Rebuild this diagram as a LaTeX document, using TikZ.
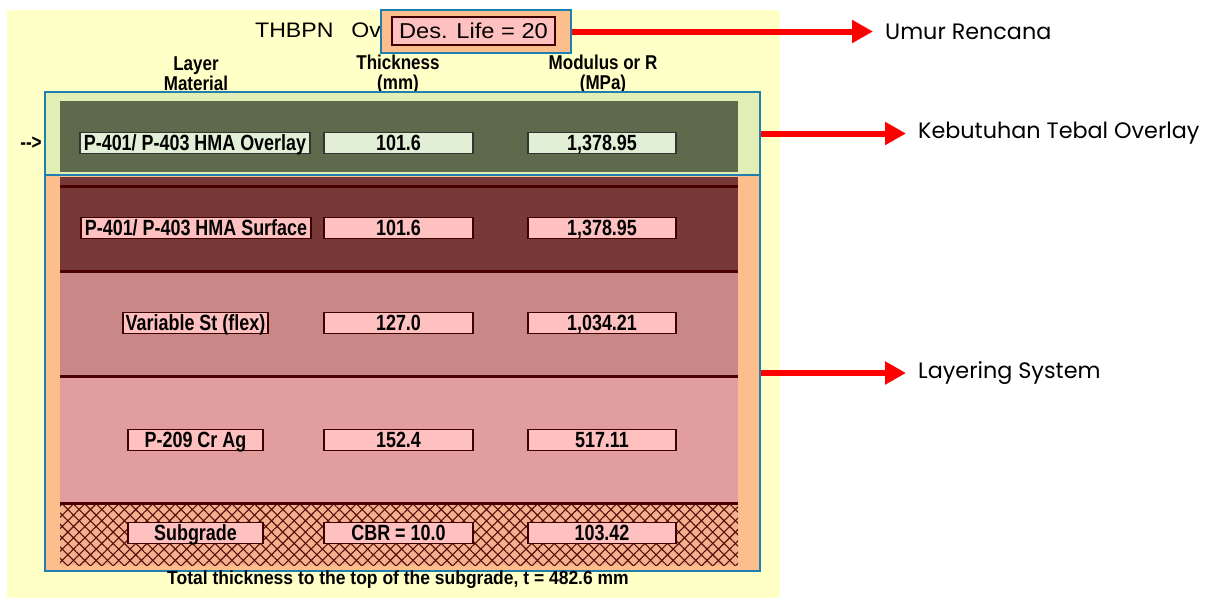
\documentclass[tikz,border=0pt]{standalone}
\usepackage{fontspec}
\setmainfont{Liberation Sans}
\newfontfamily\narrowfont[FakeStretch=0.815]{Liberation Sans}
\newfontfamily\headfont[FakeStretch=0.85]{Liberation Sans}
\newfontfamily\footfont[FakeStretch=0.92]{Liberation Sans}
\newfontfamily\widefont[FakeStretch=1.1]{Liberation Sans}
\newfontfamily\labelfont{Poppins}
\usetikzlibrary{arrows.meta,patterns.meta}

\definecolor{bgyellow}{HTML}{FFFFC8}
\definecolor{panelblue}{HTML}{1F80B0}
\definecolor{ovgreen}{HTML}{E2EFB4}
\definecolor{olivelayer}{HTML}{5D6A4B}
\definecolor{orangepanel}{HTML}{FCBE8C}
\definecolor{layA}{HTML}{773838}
\definecolor{layB}{HTML}{C98787}
\definecolor{layC}{HTML}{E29E9E}
\definecolor{subbg}{HTML}{F2B08E}
\definecolor{hatch}{HTML}{5A0A0A}
\definecolor{sepline}{HTML}{4A0000}
\definecolor{pinkbox}{HTML}{FFC0C0}
\definecolor{greenbox}{HTML}{E1EFD6}
\definecolor{boxedge}{HTML}{3C0000}
\definecolor{arrowred}{HTML}{FF0000}

\tikzset{
  panel/.style={draw=panelblue, line width=2pt, inner sep=0pt},
  valbox/.style={draw=boxedge, line width=1.5pt, fill=pinkbox, minimum height=21pt,
    inner sep=0pt, text height=15pt, text depth=0pt,
    font=\narrowfont\bfseries\fontsize{22}{22}\selectfont, text=black},
  greenval/.style={valbox, fill=greenbox, draw=black!80},
  hdr/.style={align=center, inner sep=0pt, font=\headfont\bfseries\fontsize{20}{20}\selectfont},
  redarrow/.style={draw=arrowred, line width=6pt, -{Triangle[length=21pt,width=22pt]}, shorten >=12pt},
  lbl/.style={anchor=west, inner sep=0pt, font=\labelfont\fontsize{22.3}{22.3}\selectfont},
  sepstroke/.style={draw=sepline, line width=3pt}
}

\begin{document}
\begin{tikzpicture}[x=1pt,y=-1pt]
\useasboundingbox (0,0) rectangle (1213,600);

% sheet background
\fill[bgyellow] (7,10) rectangle (780,598);

% title and column headers
\node[anchor=west, inner sep=0pt, text height=15pt, text depth=0pt, font=\widefont\fontsize{21}{21}\selectfont] (title) at (255,30) {THBPN\hspace{18pt}Ov};
\node[hdr] (hmat) at (196,74) {Layer\\Material};
\node[hdr] (hthk) at (398,74) {Thickness\\(mm)};
\node[hdr] (hmod) at (603,74) {Modulus or R\\(MPa)};

% overlay panel
\node[panel, fill=ovgreen, minimum width=715pt, minimum height=83pt] (ovbox) at (402.5,133.5) {};
\fill[olivelayer] (60,101) rectangle (738,172);

% existing pavement panel
\node[panel, fill=orangepanel, minimum width=715pt, minimum height=396pt] (laybox) at (402.5,373) {};
\fill[layA] (60,177) rectangle (738,271);
\fill[layB] (60,271) rectangle (738,376);
\fill[layC] (60,376) rectangle (738,503);
\fill[subbg] (60,503) rectangle (738,565);
\fill[pattern={Lines[angle=45,distance=8pt,line width=1.1pt]}, pattern color=hatch] (60,503) rectangle (738,565);
\fill[pattern={Lines[angle=-45,distance=8pt,line width=1.1pt]}, pattern color=hatch] (60,503) rectangle (738,565);
\draw[sepstroke] (60,186) -- (738,186);
\draw[sepstroke] (60,271) -- (738,271);
\draw[sepstroke] (60,376) -- (738,376);
\draw[sepstroke] (60,503) -- (738,503);

% layer rows
\node[font=\narrowfont\bfseries\fontsize{21}{21}\selectfont, inner sep=0pt] (ptr) at (31,143) {-{}->};
\node[greenval, minimum width=230pt] (m1) at (195,143) {P-401/ P-403 HMA Overlay};
\node[greenval, minimum width=149pt] (t1) at (398.5,143) {101.6};
\node[greenval, minimum width=148pt] (e1) at (602,143) {1,378.95};

\node[valbox, minimum width=230pt] (m2) at (196,228) {P-401/ P-403 HMA Surface};
\node[valbox, minimum width=149pt] (t2) at (398.5,228) {101.6};
\node[valbox, minimum width=148pt] (e2) at (602,228) {1,378.95};

\node[valbox, minimum width=145pt] (m3) at (195.5,323) {Variable St (flex)};
\node[valbox, minimum width=149pt] (t3) at (398.5,323) {127.0};
\node[valbox, minimum width=148pt] (e3) at (602,323) {1,034.21};

\node[valbox, minimum width=135pt] (m4) at (195.5,440) {P-209 Cr Ag};
\node[valbox, minimum width=149pt] (t4) at (398.5,440) {152.4};
\node[valbox, minimum width=148pt] (e4) at (602,440) {517.11};

\node[valbox, minimum width=135pt] (m5) at (195.5,533) {Subgrade};
\node[valbox, minimum width=149pt] (t5) at (398.5,533) {CBR = 10.0};
\node[valbox, minimum width=148pt] (e5) at (602,533) {103.42};

\node[inner sep=0pt, font=\footfont\bfseries\fontsize{19}{19}\selectfont] (total) at (398,580)
  {Total thickness to the top of the subgrade, t = 482.6 mm};

% design life field
\node[panel, fill=orangepanel, minimum width=190pt, minimum height=43pt] (dlouter) at (476,31.5) {};
\node[draw=boxedge, line width=1.5pt, fill=pinkbox, minimum width=163pt, minimum height=28pt,
  inner sep=0pt, text height=15pt, text depth=0pt, font=\widefont\fontsize{21.5}{21.5}\selectfont] (dl) at (473.5,31) {Des. Life = 20};

% callouts
\node[lbl] (lab1) at (885,31.5) {Umur Rencana};
\node[lbl] (lab2) at (918,133.5) {Kebutuhan Tebal Overlay};
\node[lbl] (lab3) at (918,373) {Layering System};
\draw[redarrow] (dlouter.east) -- (lab1.west);
\draw[redarrow] (ovbox.east) -- (lab2.west);
\draw[redarrow] (laybox.east) -- (lab3.west);
\end{tikzpicture}
\end{document}
